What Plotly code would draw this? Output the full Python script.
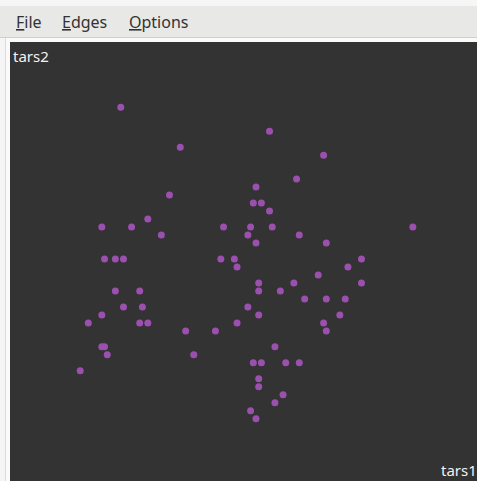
import plotly.graph_objects as go

tars1 = [137, 192, 159, 212, 202, 187, 155, 186, 189, 192, 147, 130, 141, 175, 185, 193, 245, 152, 184, 203,
         187, 213, 131, 135, 138, 174, 179, 226, 180, 221, 210, 188, 201, 226, 135, 144, 188, 196, 205, 213,
         220, 138, 145, 184, 130, 188, 218, 125, 144, 147, 180, 212, 161, 172, 213, 130, 131, 194, 132, 164,
         186, 189, 198, 203, 122, 188, 188, 197, 194, 185, 187]
tars2 = [147, 144, 142, 141, 138, 137, 136, 135, 135, 134, 133, 132, 132, 132, 132, 132, 132, 131, 131, 131,
         130, 130, 128, 128, 128, 128, 128, 128, 127, 127, 126, 125, 125, 125, 124, 124, 124, 124, 123, 123,
         123, 122, 122, 122, 121, 121, 121, 120, 120, 120, 120, 120, 119, 119, 119, 117, 117, 117, 116, 116,
         115, 115, 115, 115, 114, 113, 112, 111, 110, 109, 108]
menu_items = ["File", "Edges", "Options"]
x_label = "tars1"
y_label = "tars2"

W, H = 477, 481
L, T = 10, 42


def px(x):
    return (x - L) / (W - L)


def py(y):
    return (H - y) / (H - T)


fig = go.Figure()
fig.add_trace(go.Scatter(
    x=tars1, y=tars2, mode="markers",
    marker=dict(size=7, color="#9b4fae", line=dict(width=0)),
    hoverinfo="skip",
))

shapes = [
    dict(type="rect", xref="paper", yref="paper", x0=px(0), x1=px(W), y0=py(38), y1=py(0),
         fillcolor="#f6f6f6", line=dict(width=0), layer="below"),
    dict(type="rect", xref="paper", yref="paper", x0=px(0), x1=px(W), y0=py(37), y1=py(6),
         fillcolor="#e8e8e7", line=dict(width=0), layer="below"),
    dict(type="line", xref="paper", yref="paper", x0=px(0), x1=px(W), y0=py(37.5), y1=py(37.5),
         line=dict(color="#cfcfcf", width=1)),
    dict(type="rect", xref="paper", yref="paper", x0=px(0), x1=px(5), y0=py(H), y1=py(38),
         fillcolor="#f5f5f5", line=dict(width=0), layer="below"),
    dict(type="line", xref="paper", yref="paper", x0=px(5.5), x1=px(5.5), y0=py(H), y1=py(38),
         line=dict(color="#dcdcdc", width=1)),
]

annotations = []
menu_x = [14, 60, 127]
for name, mx in zip(menu_items, menu_x):
    annotations.append(dict(
        text="<u>" + name[0] + "</u>" + name[1:], x=px(mx), y=py(22), xref="paper", yref="paper",
        xanchor="left", yanchor="middle", showarrow=False,
        font=dict(family="Noto Sans, DejaVu Sans", size=16, color="#333333")))
annotations.append(dict(
    text=y_label, x=px(11), y=py(56), xref="paper", yref="paper", xanchor="left", yanchor="middle",
    showarrow=False, font=dict(family="Noto Sans, DejaVu Sans", size=15, color="#f2f2f2")))
annotations.append(dict(
    text=x_label, x=px(479), y=py(470), xref="paper", yref="paper", xanchor="right", yanchor="middle",
    showarrow=False, font=dict(family="Noto Sans, DejaVu Sans", size=15, color="#f2f2f2")))

fig.update_layout(
    width=W, height=H,
    margin=dict(l=L, r=0, t=T, b=0, pad=0),
    paper_bgcolor="#fafafa",
    plot_bgcolor="#333333",
    showlegend=False,
    shapes=shapes,
    annotations=annotations,
    xaxis=dict(range=[96.04, 268.72], visible=False, showgrid=False, zeroline=False, fixedrange=True),
    yaxis=dict(range=[100.21, 155.16], visible=False, showgrid=False, zeroline=False, fixedrange=True),
)

fig.write_html("out.html", config={"displayModeBar": False},
               post_script="document.body.style.margin='0';document.body.style.overflow='hidden';")
